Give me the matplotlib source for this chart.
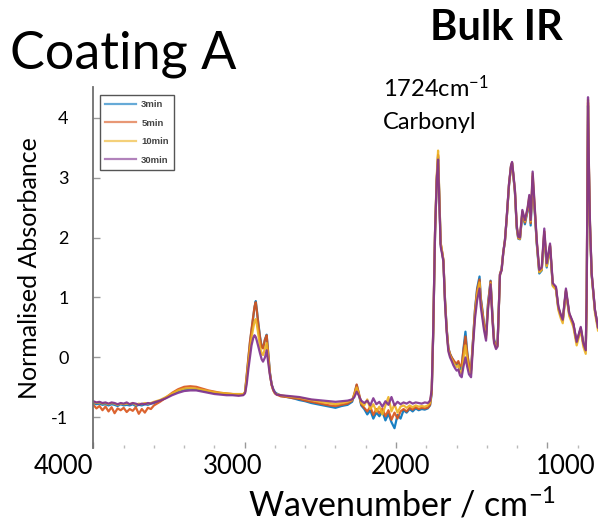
import matplotlib
matplotlib.use("Agg")
import matplotlib.pyplot as plt
from matplotlib.ticker import MultipleLocator

plt.rcParams['font.family'] = ['Lato', 'DejaVu Sans']
plt.rcParams['mathtext.default'] = 'regular'

# wavenumber grid (cm-1), shared by the four spectra
wavenumber = [
    4000, 3980, 3960, 3940, 3920, 3900, 3880, 3860, 3840, 3820, 3800, 3780,
    3760, 3740, 3720, 3700, 3680, 3660, 3640, 3620, 3600, 3560, 3520, 3480,
    3440, 3400, 3360, 3320, 3280, 3240, 3200, 3160, 3120, 3080, 3040, 3010,
    2998, 2987, 2976, 2965, 2955, 2943, 2935, 2927, 2920, 2910, 2899, 2888,
    2879, 2866, 2855, 2844, 2833, 2822, 2811, 2800, 2789,
    2760, 2720, 2680, 2640, 2600, 2560, 2520, 2480, 2440, 2400, 2360, 2320,
    2290, 2275, 2260, 2245, 2230,
    2210, 2190, 2170, 2150, 2130, 2110, 2090, 2070, 2050, 2030, 2010, 1990,
    1970, 1950, 1930, 1910, 1890, 1870, 1850, 1830, 1810, 1790, 1775,
    1764, 1754, 1742, 1731, 1722, 1714, 1705, 1695, 1687, 1676, 1665, 1654,
    1643, 1632, 1621, 1610, 1599, 1588, 1577, 1566, 1554, 1541, 1530, 1518,
    1504, 1491, 1478, 1464, 1448, 1440, 1432, 1418, 1405, 1392, 1375, 1362,
    1352, 1339, 1329, 1313, 1302, 1291, 1280, 1268, 1253, 1240, 1233, 1224,
    1214, 1202, 1192, 1181, 1165, 1148, 1130, 1119, 1110, 1097, 1081, 1070,
    1053, 1037, 1020, 1004, 982, 964, 943, 927, 912, 898, 877, 855,
    828, 806, 779, 762, 746, 740, 731, 725, 718, 707, 685, 665]

abs_3min = [
    -0.76, -0.78, -0.77, -0.79, -0.78, -0.80, -0.78, -0.79, -0.81, -0.78, -0.80, -0.79,
    -0.80, -0.78, -0.81, -0.79, -0.80, -0.78, -0.79, -0.77, -0.76, -0.72, -0.67, -0.61,
    -0.56, -0.53, -0.52, -0.53, -0.55, -0.57, -0.59, -0.60, -0.61, -0.62, -0.62, -0.62,
    -0.58, -0.32, -0.04, 0.25, 0.45, 0.68, 0.84, 0.94, 0.80, 0.57, 0.35, 0.18,
    0.16, 0.30, 0.38, 0.05, -0.26, -0.45, -0.53, -0.58, -0.60,
    -0.64, -0.66, -0.68, -0.71, -0.73, -0.76, -0.78, -0.80, -0.82, -0.84, -0.81, -0.79,
    -0.74, -0.62, -0.46, -0.62, -0.80,
    -0.86, -0.95, -0.88, -1.02, -0.92, -0.98, -0.90, -1.05, -0.94, -1.08, -1.18, -0.96,
    -1.02, -0.88, -0.92, -0.86, -0.90, -0.85, -0.88, -0.86, -0.87, -0.85, -0.80,
    -0.60, 0.40, 2.05, 2.95, 3.35, 2.70, 1.90, 1.75, 1.62, 0.95, 0.48, 0.15,
    0.06, 0.00, -0.05, -0.10, -0.12, -0.08, -0.20, -0.18, 0.15, 0.43, 0.10, -0.15,
    -0.22, 0.30, 0.80, 1.15, 1.35, 1.00, 0.85, 0.55, 0.38, 0.90, 1.28, 0.68,
    0.30, 0.20, 0.22, 1.38, 1.48, 1.75, 1.95, 2.33, 2.88, 3.18, 3.24, 3.02,
    2.75, 2.15, 1.98, 1.97, 2.40, 2.22, 2.45, 2.62, 2.20, 2.95, 2.35, 1.90,
    1.40, 1.45, 2.05, 1.50, 1.85, 1.20, 1.15, 0.82, 0.70, 0.62, 1.10, 0.72,
    0.55, 0.25, 0.48, 0.23, 0.12, 0.90, 4.20, 3.10, 2.20, 1.38, 0.78, 0.50]

abs_5min = [
    -0.79, -0.85, -0.81, -0.88, -0.82, -0.90, -0.83, -0.93, -0.85, -0.88, -0.84, -0.91,
    -0.86, -0.89, -0.83, -0.94, -0.86, -0.92, -0.84, -0.86, -0.80, -0.74, -0.67, -0.59,
    -0.53, -0.49, -0.48, -0.49, -0.52, -0.55, -0.57, -0.59, -0.60, -0.61, -0.62, -0.62,
    -0.58, -0.30, -0.02, 0.27, 0.47, 0.70, 0.85, 0.92, 0.78, 0.55, 0.33, 0.17,
    0.15, 0.30, 0.37, 0.04, -0.27, -0.46, -0.55, -0.60, -0.62,
    -0.65, -0.66, -0.68, -0.69, -0.72, -0.74, -0.76, -0.78, -0.80, -0.81, -0.79, -0.77,
    -0.72, -0.60, -0.45, -0.60, -0.78,
    -0.84, -0.90, -0.82, -0.96, -0.86, -0.93, -0.85, -0.98, -0.88, -1.04, -0.92, -1.02,
    -0.90, -0.86, -0.90, -0.84, -0.87, -0.83, -0.86, -0.84, -0.85, -0.84, -0.79,
    -0.58, 0.42, 2.08, 2.98, 3.38, 2.70, 1.90, 1.76, 1.63, 0.95, 0.47, 0.16,
    0.06, 0.00, -0.04, -0.08, -0.10, -0.06, -0.15, -0.12, 0.12, 0.35, 0.08, -0.12,
    -0.20, 0.30, 0.78, 1.12, 1.30, 0.98, 0.82, 0.55, 0.36, 0.88, 1.27, 0.66,
    0.28, 0.18, 0.20, 1.39, 1.48, 1.76, 1.96, 2.34, 2.89, 3.19, 3.25, 3.03,
    2.77, 2.17, 1.99, 1.98, 2.42, 2.25, 2.47, 2.66, 2.24, 3.02, 2.38, 1.93,
    1.43, 1.47, 2.10, 1.53, 1.87, 1.22, 1.16, 0.83, 0.71, 0.62, 1.12, 0.73,
    0.56, 0.25, 0.49, 0.23, 0.12, 0.95, 4.25, 3.15, 2.22, 1.40, 0.79, 0.50]

abs_10min = [
    -0.74, -0.76, -0.75, -0.77, -0.76, -0.78, -0.76, -0.77, -0.79, -0.77, -0.78, -0.77,
    -0.78, -0.76, -0.79, -0.77, -0.78, -0.76, -0.77, -0.76, -0.74, -0.71, -0.66, -0.60,
    -0.55, -0.52, -0.51, -0.52, -0.54, -0.56, -0.58, -0.59, -0.60, -0.61, -0.61, -0.61,
    -0.58, -0.36, -0.10, 0.15, 0.33, 0.50, 0.60, 0.64, 0.55, 0.38, 0.18, 0.06,
    0.04, 0.15, 0.24, -0.02, -0.28, -0.46, -0.55, -0.60, -0.61,
    -0.63, -0.65, -0.66, -0.67, -0.69, -0.71, -0.73, -0.75, -0.76, -0.78, -0.76, -0.74,
    -0.71, -0.62, -0.50, -0.62, -0.76,
    -0.80, -0.70, -0.86, -0.78, -0.90, -0.82, -0.95, -0.80, -0.66, -0.90, -0.78, -0.92,
    -0.82, -0.80, -0.84, -0.80, -0.83, -0.80, -0.82, -0.81, -0.82, -0.80, -0.76,
    -0.56, 0.45, 2.10, 3.02, 3.45, 2.75, 1.92, 1.76, 1.62, 0.94, 0.45, 0.13,
    0.03, -0.03, -0.08, -0.13, -0.16, -0.13, -0.25, -0.26, -0.02, 0.20, -0.02, -0.20,
    -0.27, 0.25, 0.72, 1.05, 1.25, 0.92, 0.77, 0.50, 0.32, 0.84, 1.24, 0.63,
    0.26, 0.16, 0.19, 1.37, 1.46, 1.74, 1.94, 2.33, 2.88, 3.18, 3.24, 3.03,
    2.77, 2.18, 1.99, 1.98, 2.44, 2.27, 2.48, 2.69, 2.27, 3.07, 2.39, 1.93,
    1.42, 1.46, 2.10, 1.52, 1.86, 1.19, 1.13, 0.79, 0.66, 0.57, 1.10, 0.69,
    0.51, 0.20, 0.46, 0.18, 0.06, 0.95, 4.30, 3.18, 2.21, 1.38, 0.74, 0.45]

abs_30min = [
    -0.73, -0.75, -0.74, -0.76, -0.75, -0.77, -0.75, -0.76, -0.78, -0.76, -0.77, -0.75,
    -0.78, -0.76, -0.77, -0.79, -0.77, -0.78, -0.76, -0.77, -0.75, -0.72, -0.68, -0.63,
    -0.59, -0.56, -0.55, -0.55, -0.57, -0.59, -0.61, -0.62, -0.63, -0.63, -0.64, -0.63,
    -0.60, -0.45, -0.20, 0.01, 0.20, 0.33, 0.37, 0.34, 0.28, 0.18, 0.07, -0.03,
    -0.07, 0.00, 0.12, -0.10, -0.30, -0.45, -0.54, -0.59, -0.62,
    -0.63, -0.64, -0.65, -0.66, -0.68, -0.70, -0.71, -0.72, -0.73, -0.74, -0.73, -0.72,
    -0.70, -0.66, -0.57, -0.64, -0.72,
    -0.76, -0.72, -0.80, -0.68, -0.78, -0.74, -0.82, -0.73, -0.79, -0.66, -0.80, -0.74,
    -0.78, -0.75, -0.77, -0.74, -0.77, -0.75, -0.76, -0.77, -0.75, -0.76, -0.72,
    -0.54, 0.46, 2.10, 2.95, 3.30, 2.60, 1.85, 1.72, 1.60, 0.90, 0.42, 0.10,
    0.00, -0.06, -0.13, -0.18, -0.22, -0.20, -0.30, -0.33, -0.15, 0.00, -0.15, -0.28,
    -0.33, 0.20, 0.65, 0.95, 1.15, 0.85, 0.70, 0.45, 0.28, 0.80, 1.22, 0.60,
    0.24, 0.14, 0.18, 1.38, 1.45, 1.75, 1.95, 2.35, 2.90, 3.20, 3.26, 3.05,
    2.79, 2.20, 2.01, 2.00, 2.46, 2.29, 2.50, 2.71, 2.29, 3.10, 2.41, 1.96,
    1.46, 1.50, 2.15, 1.57, 1.90, 1.24, 1.18, 0.85, 0.72, 0.63, 1.15, 0.74,
    0.57, 0.26, 0.51, 0.24, 0.12, 1.00, 4.34, 3.20, 2.24, 1.41, 0.79, 0.50]

labels = ['3min', '5min', '10min', '30min']
colors = ['#0072BD', '#D95319', '#EDB120', '#7E2F8E']
series = [abs_3min, abs_5min, abs_10min, abs_30min]

fig = plt.figure(figsize=(5.98, 5.26), dpi=100)
ax = fig.add_axes([0.1562, 0.1483, 0.8438, 0.6863])

for y, c, lab in zip(series, colors, labels):
    ax.plot(wavenumber, y, color=c, linewidth=1.6, alpha=0.9, label=lab)

ax.set_xlim(4000, 665)
ax.set_ylim(-1.51, 4.51)

ax.xaxis.set_major_locator(MultipleLocator(1000))
ax.xaxis.set_minor_locator(MultipleLocator(200))
ax.tick_params(axis='x', which='major', direction='in', length=4, width=1,
               color='#999999', labelbottom=False)
ax.tick_params(axis='x', which='minor', direction='in', length=2, width=1,
               color='#bbbbbb')
ax.tick_params(axis='y', which='major', direction='in', length=5, width=1,
               color='#999999', labelsize=13, pad=18)
ax.set_yticks([-1, 0, 1, 2, 3, 4])
ax.set_yticklabels(['-1', '0', '1', '2', '3', '4'])

for s in ['top', 'right', 'bottom']:
    ax.spines[s].set_visible(False)
ax.spines['left'].set_color('#707070')
ax.spines['left'].set_linewidth(1.3)

leg = ax.legend(loc='upper left', bbox_to_anchor=(0.003, 0.992),
                prop={'family': 'Liberation Sans', 'size': 6.8, 'weight': 'bold'},
                handlelength=3.2, handletextpad=0.6, labelspacing=1.0,
                borderpad=0.6, fancybox=False, framealpha=1)
leg.get_frame().set_edgecolor('#555555')
leg.get_frame().set_linewidth(1.0)
for ln in leg.get_lines():
    ln.set_alpha(0.6)
    ln.set_linewidth(1.6)
for t in leg.get_texts():
    t.set_color('#444444')

# big overlaid axis labels
tick_text = ['4000', '3000', '2000', '1000']
tick_xpix = [63, 233, 400, 566]
for t, xp in zip(tick_text, tick_xpix):
    fig.text(xp / 598, 1 - 466 / 526, t, fontsize=18.5, ha='center', va='center')

fig.text(402 / 598, 1 - 505 / 526, 'Wavenumber / cm$^{-1}$', fontsize=24.5,
         ha='center', va='center')
fig.text(30 / 598, 1 - 268 / 526, 'Normalised Absorbance', fontsize=18,
         rotation=90, ha='center', va='center')
fig.text(10 / 598, 1 - 68 / 526, 'Coating A', fontsize=37.5, ha='left',
         va='baseline')
fig.text(430 / 598, 1 - 40 / 526, 'Bulk IR', fontsize=30, fontweight='bold',
         ha='left', va='baseline')
fig.text(383 / 598, 1 - 97 / 526, '1724cm$^{-1}$', fontsize=17, ha='left',
         va='baseline')
fig.text(383 / 598, 1 - 129 / 526, 'Carbonyl', fontsize=17, ha='left',
         va='baseline')

fig.savefig('out.png', dpi=100)
